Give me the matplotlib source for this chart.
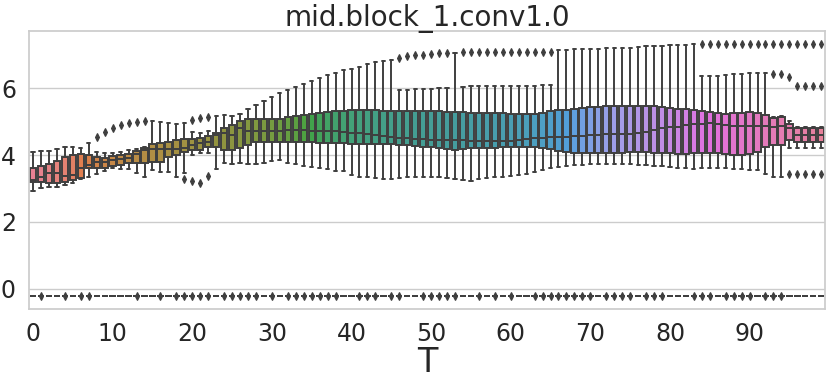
import colorsys
import matplotlib
matplotlib.use("Agg")
import matplotlib.pyplot as plt
import matplotlib as mpl
import seaborn as sns

# ---------------- data ----------------
T = list(range(100))

q1 = [3.20, 3.20, 3.15, 3.15, 3.18, 3.25, 3.32, 3.60, 3.60, 3.60,
      3.67, 3.70, 3.75, 3.75, 3.77, 3.80, 3.80, 3.95, 4.00, 4.10,
      4.15, 4.15, 4.25, 4.25, 4.15, 4.15, 4.20, 4.30, 4.40, 4.40,
      4.40, 4.40, 4.40, 4.40, 4.40, 4.40, 4.37, 4.37, 4.35, 4.35,
      4.33, 4.33, 4.33, 4.33, 4.33, 4.33, 4.30, 4.30, 4.28, 4.25,
      4.23, 4.20, 4.18, 4.15, 4.17, 4.20, 4.20, 4.20, 4.20, 4.23,
      4.23, 4.23, 4.23, 4.25, 4.20, 4.17, 4.13, 4.10, 4.07, 4.05,
      4.05, 4.05, 4.05, 4.05, 4.07, 4.10, 4.10, 4.10, 4.07, 4.07,
      4.05, 4.03, 4.03, 4.05, 4.05, 4.05, 4.05, 4.03, 4.00, 4.00,
      4.03, 4.10, 4.23, 4.30, 4.30, 4.45, 4.40, 4.40, 4.40, 4.40]

med = [3.25, 3.33, 3.45, 3.47, 3.37, 3.40, 3.60, 3.70, 3.80, 3.80,
       3.85, 3.87, 3.90, 4.03, 4.15, 4.17, 4.17, 4.17, 4.17, 4.22,
       4.30, 4.37, 4.40, 4.60, 4.65, 4.60, 4.80, 4.73, 4.73, 4.73,
       4.73, 4.73, 4.75, 4.75, 4.75, 4.73, 4.73, 4.73, 4.73, 4.70,
       4.67, 4.65, 4.62, 4.60, 4.57, 4.55, 4.52, 4.50, 4.48, 4.47,
       4.45, 4.45, 4.45, 4.45, 4.45, 4.43, 4.43, 4.43, 4.43, 4.43,
       4.43, 4.45, 4.47, 4.50, 4.52, 4.53, 4.55, 4.55, 4.57, 4.58,
       4.60, 4.60, 4.62, 4.62, 4.62, 4.63, 4.67, 4.70, 4.75, 4.80,
       4.83, 4.85, 4.90, 4.92, 4.93, 4.95, 4.93, 4.90, 4.88, 4.87,
       4.87, 4.87, 4.87, 4.85, 4.87, 4.80, 4.60, 4.60, 4.60, 4.60]

q3 = [3.60, 3.68, 3.72, 3.83, 3.95, 4.00, 4.02, 4.00, 3.93, 3.90,
      3.97, 4.00, 4.02, 4.13, 4.20, 4.32, 4.37, 4.40, 4.45, 4.47,
      4.47, 4.50, 4.58, 4.67, 4.80, 4.90, 5.02, 5.08, 5.08, 5.08,
      5.08, 5.08, 5.14, 5.17, 5.19, 5.22, 5.26, 5.29, 5.32, 5.32,
      5.34, 5.34, 5.34, 5.34, 5.32, 5.32, 5.31, 5.32, 5.32, 5.32,
      5.32, 5.32, 5.29, 5.29, 5.29, 5.27, 5.27, 5.27, 5.26, 5.26,
      5.24, 5.24, 5.24, 5.24, 5.27, 5.32, 5.34, 5.36, 5.39, 5.42,
      5.44, 5.44, 5.46, 5.46, 5.46, 5.48, 5.48, 5.46, 5.46, 5.44,
      5.42, 5.39, 5.39, 5.36, 5.32, 5.29, 5.27, 5.24, 5.26, 5.27,
      5.29, 5.27, 5.19, 5.11, 5.14, 4.92, 4.80, 4.80, 4.80, 4.80]

whislo = [2.93, 3.00, 3.03, 3.03, 3.10, 3.17, 3.27, 3.33, 3.43, 3.52,
          3.60, 3.58, 3.58, 3.45, 3.35, 3.55, 3.50, 3.50, 3.35, 3.45,
          4.00, 4.05, 4.05, 3.57, 3.75, 3.73, 3.75, 3.73, 3.73, 3.77,
          3.83, 3.85, 3.77, 3.73, 3.67, 3.65, 3.60, 3.57, 3.53, 3.53,
          3.40, 3.35, 3.35, 3.30, 3.27, 3.27, 3.30, 3.33, 3.33, 3.33,
          3.33, 3.33, 3.30, 3.27, 3.25, 3.23, 3.27, 3.30, 3.33, 3.35,
          3.37, 3.40, 3.43, 3.50, 3.55, 3.60, 3.65, 3.68, 3.70, 3.70,
          3.72, 3.73, 3.73, 3.73, 3.73, 3.73, 3.70, 3.70, 3.68, 3.67,
          3.65, 3.62, 3.60, 3.58, 3.60, 3.60, 3.60, 3.60, 3.58, 3.57,
          3.55, 3.55, 3.43, 3.35, 3.35, 4.20, 4.20, 4.20, 4.20, 4.20]

whishi = [4.10, 4.13, 4.12, 4.18, 4.25, 4.25, 4.20, 4.37, 4.08, 4.05,
          4.05, 4.10, 4.15, 4.18, 4.25, 5.02, 5.00, 4.95, 4.92, 4.95,
          4.70, 4.65, 4.72, 5.16, 5.19, 5.16, 5.24, 5.37, 5.51, 5.63,
          5.74, 5.86, 5.96, 6.04, 6.14, 6.22, 6.31, 6.41, 6.47, 6.54,
          6.59, 6.64, 6.72, 6.79, 6.82, 6.86, 5.96, 5.96, 5.97, 5.97,
          5.99, 6.01, 6.01, 7.04, 6.04, 6.06, 6.06, 6.06, 6.06, 6.06,
          6.07, 6.07, 6.08, 6.08, 6.09, 6.11, 7.13, 7.13, 7.16, 7.17,
          7.18, 7.18, 7.19, 7.20, 7.20, 7.21, 7.23, 7.25, 7.26, 7.27,
          7.28, 7.29, 7.30, 7.31, 6.36, 6.37, 6.38, 6.40, 6.42, 6.44,
          6.46, 6.47, 6.47, 5.15, 5.18, 5.03, 4.83, 4.83, 4.83, 4.83]

upper_fliers = {
    8: [4.55], 9: [4.68], 10: [4.80], 11: [4.90], 12: [4.97], 13: [5.00],
    14: [5.02], 20: [5.04], 21: [5.10], 22: [5.15],
    46: [6.92], 47: [6.95], 48: [6.98], 49: [7.00], 50: [7.02], 51: [7.04],
    52: [7.04], 54: [7.07], 55: [7.07], 56: [7.07], 57: [7.07], 58: [7.08],
    59: [7.08], 60: [7.08], 61: [7.09], 62: [7.09], 63: [7.09], 64: [7.09],
    65: [7.09],
    84: [7.33], 85: [7.33], 86: [7.33], 87: [7.33], 88: [7.33], 89: [7.33],
    90: [7.33], 91: [7.33], 92: [7.33], 93: [7.33, 6.44], 94: [7.33, 6.44],
    95: [7.33, 6.34], 96: [7.33, 6.06], 97: [7.33, 6.06], 98: [7.33, 6.06],
    99: [7.33, 6.06],
}
lower_fliers = {
    19: [3.27], 20: [3.22], 21: [3.17], 22: [3.37],
    95: [3.43], 96: [3.43], 97: [3.43], 98: [3.43], 99: [3.43],
}

base_level = -0.23
base_flier_T = [1, 4, 6, 7, 13, 16, 18, 19, 20, 21, 22, 24, 25, 26, 27, 28,
                30, 32, 33, 34, 35, 36, 37, 38, 41, 42, 43, 45, 46, 49, 50,
                51, 52, 53, 56, 58, 60, 63, 64, 65, 66, 67, 68, 69, 70, 72,
                73, 74, 75, 77, 78, 79, 83, 84, 85, 87, 88, 89, 90, 92, 93, 94]

xtick_labels = [str(v) for v in range(0, 100, 10)]
title = "mid.block_1.conv1.0"
xlabel = "T"

# ---------------- style ----------------
sns.set_theme(style="whitegrid", font_scale=1.5)
plt.rcParams["font.family"] = ["DejaVu Sans"]

pal = sns.husl_palette(len(T), h=.01, s=.9, l=.65)
pal = [sns.desaturate(c, 0.75) for c in pal]
lum = min(colorsys.rgb_to_hls(*c)[1] for c in pal) * .6
gray = mpl.colors.rgb2hex((lum, lum, lum))

fig = plt.figure(figsize=(8.31, 3.84), dpi=100)
ax = fig.add_axes([0.035, 0.195, 0.958, 0.724])

main_stats = []
base_stats = []
for i, t in enumerate(T):
    fl = upper_fliers.get(t, []) + lower_fliers.get(t, [])
    main_stats.append(dict(med=med[i], q1=q1[i], q3=q3[i],
                           whislo=whislo[i], whishi=whishi[i], fliers=fl))
    base_stats.append(dict(med=base_level, q1=base_level, q3=base_level,
                           whislo=base_level, whishi=base_level,
                           fliers=[base_level] if t in base_flier_T else []))

lw = 1.4
common = dict(positions=T, widths=0.8, patch_artist=True,
              boxprops=dict(edgecolor=gray, linewidth=lw),
              whiskerprops=dict(color=gray, linewidth=lw),
              capprops=dict(color=gray, linewidth=lw),
              medianprops=dict(color=gray, linewidth=lw),
              flierprops=dict(marker="d", markerfacecolor=gray,
                              markeredgecolor=gray, markersize=4.2,
                              markeredgewidth=0.8, linestyle="none"),
              manage_ticks=False)

for stats in (base_stats, main_stats):
    art = ax.bxp(stats, **common)
    for patch, c in zip(art["boxes"], pal):
        patch.set_facecolor(c)

ax.set_xlim(-0.5, len(T) - 0.5)
ax.set_ylim(-0.61, 7.71)
ax.set_xticks(range(0, 100, 10))
ax.set_xticklabels(xtick_labels)
ax.set_yticks([0, 2, 4, 6])
ax.tick_params(labelsize=17)
ax.xaxis.grid(False)
ax.set_title(title, fontsize=20, pad=4)
ax.set_xlabel(xlabel, fontsize=24, labelpad=0)

fig.savefig("out.png", dpi=100)
